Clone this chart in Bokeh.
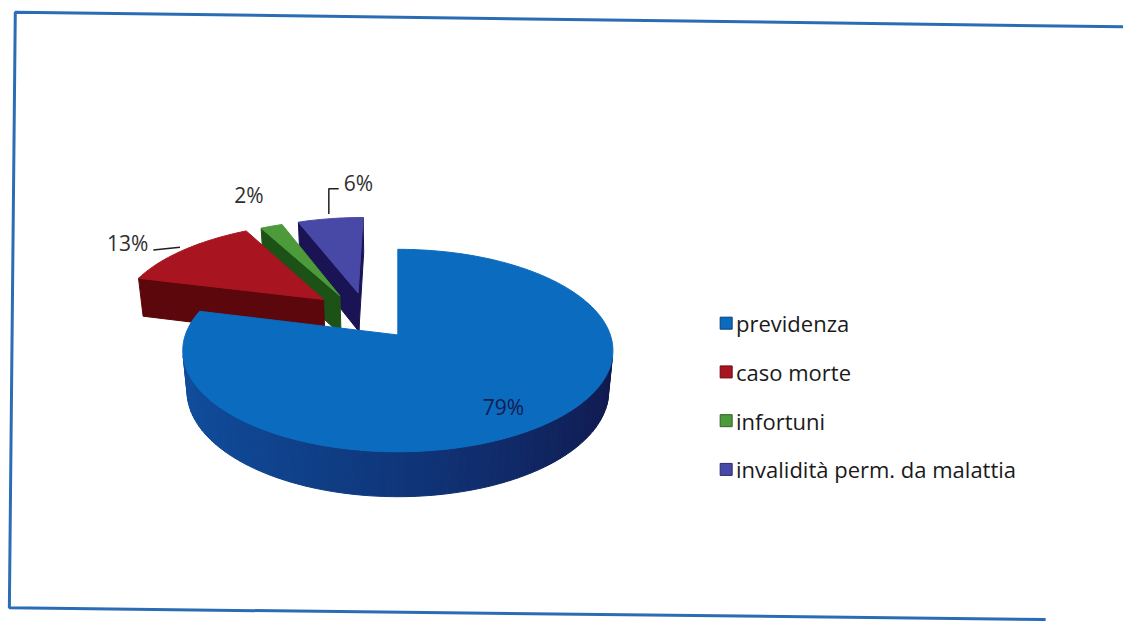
import numpy as np
from bokeh.plotting import figure
from bokeh.models import Range1d, ColumnDataSource
from bokeh.embed import file_html
from bokeh.resources import INLINE
from bokeh.core.properties import value

# ---------------- data ----------------
categories = ["previdenza", "caso morte", "infortuni", "invalidità perm. da malattia"]
values = [79, 13, 2, 6]
labels = [f"{v}%" for v in values]

# ---------------- styles ----------------
TOP_COLORS = ["#0B6BBE", "#A8141F", "#4C9A3A", "#4848A6"]
SIDE_LIGHT = ["#0F4E9E", "#6E0A10", "#2E6E22", "#2A2A80"]
SIDE_DARK = ["#10164A", "#3E0508", "#163E10", "#150F40"]
WALL_COLORS = ["#0E3F86", "#5C070C", "#1C5216", "#1A1454"]
LEGEND_EDGE = ["#0A3F78", "#6A0A12", "#2C6222", "#2A2A70"]
EXPLODE = [(0.0, 0.0), (-0.37, 0.38), (-0.29, 0.42), (-0.20, 0.455)]
LABEL_POS = [(510, 417), (129, 249), (252, 200), (363, 187)]
LABEL_COLORS = ["#101C50", "#303030", "#303030", "#303030"]
FONT = "Open Sans"

PHI = np.radians(30.0)
SA, CA = np.sin(PHI), np.cos(PHI)
DIST, HGT, FOC, CX, CY = 5.73, 0.222, 1211.0, 403.0, 384.5
CAM = np.array([0.0, DIST * SA, -DIST * CA])


def proj(X, Hh, Z):
    X = np.asarray(X, float)
    Z = np.asarray(Z, float)
    Hh = np.asarray(Hh, float)
    yc = Hh * CA + Z * SA
    zc = DIST + Z * CA - Hh * SA
    return CX + FOC * X / zc, CY - FOC * yc / zc


def mix(c1, c2, t):
    a = [int(c1[i:i + 2], 16) for i in (1, 3, 5)]
    b = [int(c2[i:i + 2], 16) for i in (1, 3, 5)]
    return "#%02x%02x%02x" % tuple(int(round(a[k] + (b[k] - a[k]) * t)) for k in range(3))


def visible(normal, point):
    return np.dot(normal, CAM - point) > 0


total = float(sum(values))
bounds = np.concatenate([[0.0], np.cumsum(values)]) / total * 2 * np.pi

xs, ys, fills = [], [], []
order = sorted(range(len(values)), key=lambda i: -EXPLODE[i][1])
for i in order:
    t0, t1 = bounds[i], bounds[i + 1]
    ox, oz = EXPLODE[i]
    faces = []
    # radial walls
    for t, sgn in ((t0, -1), (t1, 1)):
        n = np.array([sgn * np.cos(t), 0.0, -sgn * np.sin(t)])
        ex, ez = ox + np.sin(t), oz + np.cos(t)
        mid = np.array([(ox + ex) / 2, HGT / 2, (oz + ez) / 2])
        if visible(n, mid):
            X = [ox, ex, ex, ox]
            Hh = [HGT, HGT, 0, 0]
            Z = [oz, ez, ez, oz]
            faces.append((mid, X, Hh, Z, WALL_COLORS[i]))
    # outer curved wall
    nseg = max(4, int(np.degrees(t1 - t0) / 2.0))
    tt = np.linspace(t0, t1, nseg + 1)
    for a, b in zip(tt[:-1], tt[1:]):
        m = (a + b) / 2
        n = np.array([np.sin(m), 0.0, np.cos(m)])
        mid = np.array([ox + np.sin(m), HGT / 2, oz + np.cos(m)])
        if visible(n, mid):
            X = [ox + np.sin(a), ox + np.sin(b), ox + np.sin(b), ox + np.sin(a)]
            Hh = [HGT, HGT, 0, 0]
            Z = [oz + np.cos(a), oz + np.cos(b), oz + np.cos(b), oz + np.cos(a)]
            f = ((1 - np.sin(m)) / 2) ** 0.8
            faces.append((mid, X, Hh, Z, mix(SIDE_DARK[i], SIDE_LIGHT[i], f)))
    faces.sort(key=lambda fc: -np.linalg.norm(CAM - fc[0]))
    for _, X, Hh, Z, col in faces:
        px, py = proj(X, Hh, Z)
        xs.append(list(px)); ys.append(list(py)); fills.append(col)
    # top face
    ta = np.linspace(t0, t1, max(8, int(np.degrees(t1 - t0))))
    X = np.concatenate([[ox], ox + np.sin(ta)])
    Z = np.concatenate([[oz], oz + np.cos(ta)])
    px, py = proj(X, np.full(len(X), HGT), Z)
    xs.append(list(px)); ys.append(list(py)); fills.append(TOP_COLORS[i])

p = figure(width=1123, height=621, output_backend="svg", toolbar_location=None,
           x_range=Range1d(0, 1139), y_range=Range1d(637, 0), min_border=0)
p.axis.visible = False
p.grid.visible = False
p.outline_line_color = None
p.background_fill_color = "white"

src = ColumnDataSource(dict(xs=xs, ys=ys, fill=fills))
p.patches("xs", "ys", source=src, fill_color="fill", line_color="fill", line_width=1.0)

# frame (scanned, slightly skewed)
FRAME_COLOR = "#2A6DB5"
p.line([1139, 15, 9, 1060], [27, 12, 623, 635], line_color=FRAME_COLOR, line_width=3)

# data labels
lsrc = ColumnDataSource(dict(x=[q[0] for q in LABEL_POS], y=[q[1] for q in LABEL_POS],
                             text=labels, color=LABEL_COLORS))
p.text("x", "y", text="text", source=lsrc, text_color="color", text_align="center",
       text_baseline="middle", text_font=value(FONT), text_font_size="21px")

# leader lines
p.line([155, 182], [256, 253], line_color="#202020", line_width=1.5)
p.line([333, 333, 343], [219, 193, 193], line_color="#202020", line_width=1.5)

# legend
LEG_X, LEG_Y0, LEG_DY = 736, 331, 50
leg_y = [LEG_Y0 + k * LEG_DY for k in range(len(categories))]
p.scatter([LEG_X] * len(categories), leg_y, marker="square", size=12,
          fill_color=TOP_COLORS, line_color=LEGEND_EDGE, line_width=1)
p.text([LEG_X + 10] * len(categories), leg_y, text=categories, text_color="#1A1A1A",
       text_align="left", text_baseline="middle", text_font=value(FONT), text_font_size="22px")

open("out.html", "w").write(file_html(p, INLINE))
